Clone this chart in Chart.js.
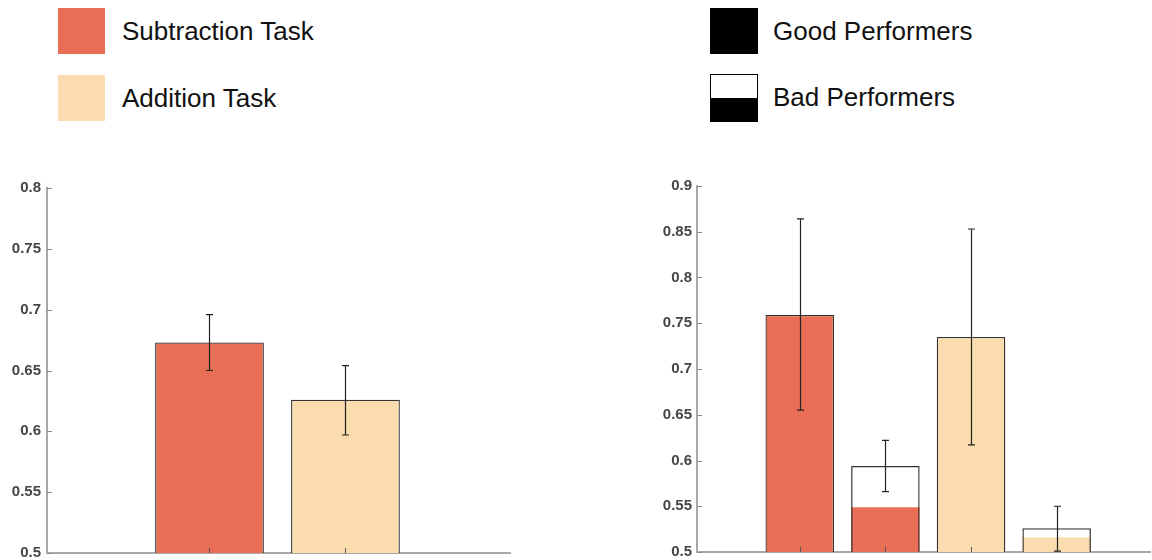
<!DOCTYPE html>
<html>
<head>
<meta charset="utf-8">
<script src="https://cdn.jsdelivr.net/npm/chart.js@4/dist/chart.umd.min.js"></script>
<style>
  html, body { margin: 0; padding: 0; background: #fff; }
  body { width: 1152px; height: 560px; position: relative; overflow: hidden;
         font-family: "Liberation Sans", Arial, sans-serif; }
  .sw { position: absolute; box-sizing: border-box; }
  .lg { position: absolute; font-size: 26px; line-height: 26px; color: #111; white-space: nowrap; }
  canvas { position: absolute; }
</style>
</head>
<body>
  <!-- task legend -->
  <div class="sw" style="left:58px;top:8px;width:47px;height:46px;background:#E86F55;"></div>
  <div class="lg" style="left:122px;top:18px;">Subtraction Task</div>
  <div class="sw" style="left:58px;top:75px;width:47px;height:46px;background:#FADCAE;"></div>
  <div class="lg" style="left:122px;top:85px;">Addition Task</div>

  <!-- performer legend -->
  <div class="sw" style="left:710px;top:8px;width:48px;height:46px;background:#000;"></div>
  <div class="lg" style="left:773px;top:18px;">Good Performers</div>
  <div class="sw" style="left:710px;top:74px;width:48px;height:48px;border:1.5px solid #000;background:linear-gradient(#fff 0 50%, #000 50% 100%);"></div>
  <div class="lg" style="left:773px;top:84px;">Bad Performers</div>

  <canvas id="taskChart" width="512" height="400" style="left:0;top:170px;"></canvas>
  <canvas id="perfChart" width="532" height="400" style="left:620px;top:170px;"></canvas>

<script>
// ---- overall accuracy by task ----
const taskNames = ['Subtraction Task', 'Addition Task'];
const taskPositions = [1, 2];
const taskMeans = [0.673, 0.626];
const taskErrLow = [0.650, 0.597];
const taskErrHigh = [0.696, 0.654];
const taskYTicks = [0.5, 0.55, 0.6, 0.65, 0.7, 0.75, 0.8];

// ---- accuracy by task and performer group ----
const groupPositions = [1, 2, 3, 4];
const groupTasks = ['Subtraction Task', 'Subtraction Task', 'Addition Task', 'Addition Task'];
const groupPerformers = ['Good Performers', 'Bad Performers', 'Good Performers', 'Bad Performers'];
const groupMeans = [0.759, 0.594, 0.735, 0.526];
const groupFillLevels = [0.759, 0.549, 0.735, 0.516];
const groupErrLow = [0.655, 0.566, 0.617, 0.501];
const groupErrHigh = [0.864, 0.622, 0.853, 0.550];
const groupYTicks = [0.5, 0.55, 0.6, 0.65, 0.7, 0.75, 0.8, 0.85, 0.9];

const TASK_COLORS = { 'Subtraction Task': '#E86F55', 'Addition Task': '#FADCAE' };
const EDGE = '#333333';
const AXIS = '#a8a8a8';

// error bars + inward tick marks drawn on top of the bars
const decorations = {
  id: 'decorations',
  afterDatasetsDraw(chart, args, opts) {
    const { ctx, chartArea } = chart;
    const xs = chart.scales.x, ys = chart.scales.y;
    ctx.save();
    // inward tick marks on y axis
    ctx.strokeStyle = '#8a8a8a';
    ctx.lineWidth = 1;
    for (const t of ys.ticks) {
      const py = Math.round(ys.getPixelForValue(t.value)) + 0.5;
      ctx.beginPath();
      ctx.moveTo(chartArea.left, py);
      ctx.lineTo(chartArea.left + 5, py);
      ctx.stroke();
    }
    // inward tick marks on x axis at bar centres
    ctx.strokeStyle = '#555';
    for (const p of opts.positions) {
      const px = Math.round(xs.getPixelForValue(p)) + 0.5;
      ctx.beginPath();
      ctx.moveTo(px, chartArea.bottom);
      ctx.lineTo(px, chartArea.bottom - 5);
      ctx.stroke();
    }
    // error bars
    ctx.strokeStyle = '#222';
    ctx.lineWidth = 1.2;
    opts.positions.forEach((p, i) => {
      const px = Math.round(xs.getPixelForValue(p)) + 0.5;
      const lo = ys.getPixelForValue(opts.low[i]);
      const hi = ys.getPixelForValue(opts.high[i]);
      ctx.beginPath();
      ctx.moveTo(px, lo); ctx.lineTo(px, hi);
      ctx.moveTo(px - 3.5, lo); ctx.lineTo(px + 3.5, lo);
      ctx.moveTo(px - 3.5, hi); ctx.lineTo(px + 3.5, hi);
      ctx.stroke();
    });
    ctx.restore();
  }
};

function axes(positions, xMin, xMax, yTicks, yWidth, labelPad) {
  return {
    x: {
      type: 'linear', min: xMin, max: xMax, stacked: true, offset: false,
      afterBuildTicks: s => { s.ticks = positions.map(v => ({ value: v })); },
      afterFit: s => { s.height = 0; },
      ticks: { display: false },
      grid: { display: true, offset: false, drawOnChartArea: false, drawTicks: false },
      border: { display: true, color: AXIS, width: 2 }
    },
    y: {
      type: 'linear', min: yTicks[0], max: yTicks[yTicks.length - 1], stacked: false,
      afterBuildTicks: s => { s.ticks = yTicks.map(v => ({ value: v })); },
      afterFit: s => { s.width = yWidth; },
      ticks: {
        padding: labelPad, color: '#454545',
        font: { family: 'Liberation Sans', size: 15, weight: 'bold' },
        callback: v => String(v)
      },
      grid: { display: true, drawOnChartArea: false, drawTicks: false },
      border: { display: true, color: AXIS, width: 2 }
    }
  };
}

const commonPlugins = {
  legend: { display: false },
  tooltip: { enabled: false }
};

// left chart
new Chart(document.getElementById('taskChart'), {
  type: 'bar',
  data: {
    datasets: [{
      label: 'Accuracy',
      data: taskPositions.map((p, i) => ({ x: p, y: taskMeans[i] })),
      backgroundColor: taskNames.map(n => TASK_COLORS[n]),
      borderColor: EDGE,
      borderWidth: 1.3,
      barPercentage: 0.8,
      categoryPercentage: 1
    }]
  },
  options: {
    responsive: false,
    animation: false,
    layout: { padding: { top: 18, bottom: 17, left: 0, right: 2 } },
    scales: axes(taskPositions, -0.195, 3.21, taskYTicks, 47, 6),
    plugins: Object.assign({}, commonPlugins, {
      decorations: { positions: taskPositions, low: taskErrLow, high: taskErrHigh }
    })
  },
  plugins: [decorations]
});

// right chart
const pick = (group, values) => groupPositions
  .map((p, i) => ({ x: p, y: values[i], g: groupPerformers[i], t: groupTasks[i] }))
  .filter(d => d.g === group);

const badOutline = pick('Bad Performers', groupMeans);
const badFill = pick('Bad Performers', groupFillLevels);
const good = pick('Good Performers', groupMeans);

new Chart(document.getElementById('perfChart'), {
  type: 'bar',
  data: {
    datasets: [
      {
        label: 'Bad Performers (outline)',
        data: badOutline,
        backgroundColor: 'rgba(0,0,0,0)',
        borderColor: EDGE,
        borderWidth: 1.3,
        barPercentage: 0.8,
        categoryPercentage: 1
      },
      {
        label: 'Bad Performers',
        data: badFill,
        backgroundColor: badFill.map(d => TASK_COLORS[d.t]),
        borderWidth: 0,
        barPercentage: 0.8,
        categoryPercentage: 1
      },
      {
        label: 'Good Performers',
        data: good,
        backgroundColor: good.map(d => TASK_COLORS[d.t]),
        borderColor: EDGE,
        borderWidth: 1.3,
        barPercentage: 0.8,
        categoryPercentage: 1
      }
    ]
  },
  options: {
    responsive: false,
    animation: false,
    layout: { padding: { top: 16, bottom: 18, left: 0, right: 2 } },
    scales: axes(groupPositions, -0.2, 5.09, groupYTicks, 77, 5),
    plugins: Object.assign({}, commonPlugins, {
      decorations: { positions: groupPositions, low: groupErrLow, high: groupErrHigh }
    })
  },
  plugins: [decorations]
});
</script>
</body>
</html>
